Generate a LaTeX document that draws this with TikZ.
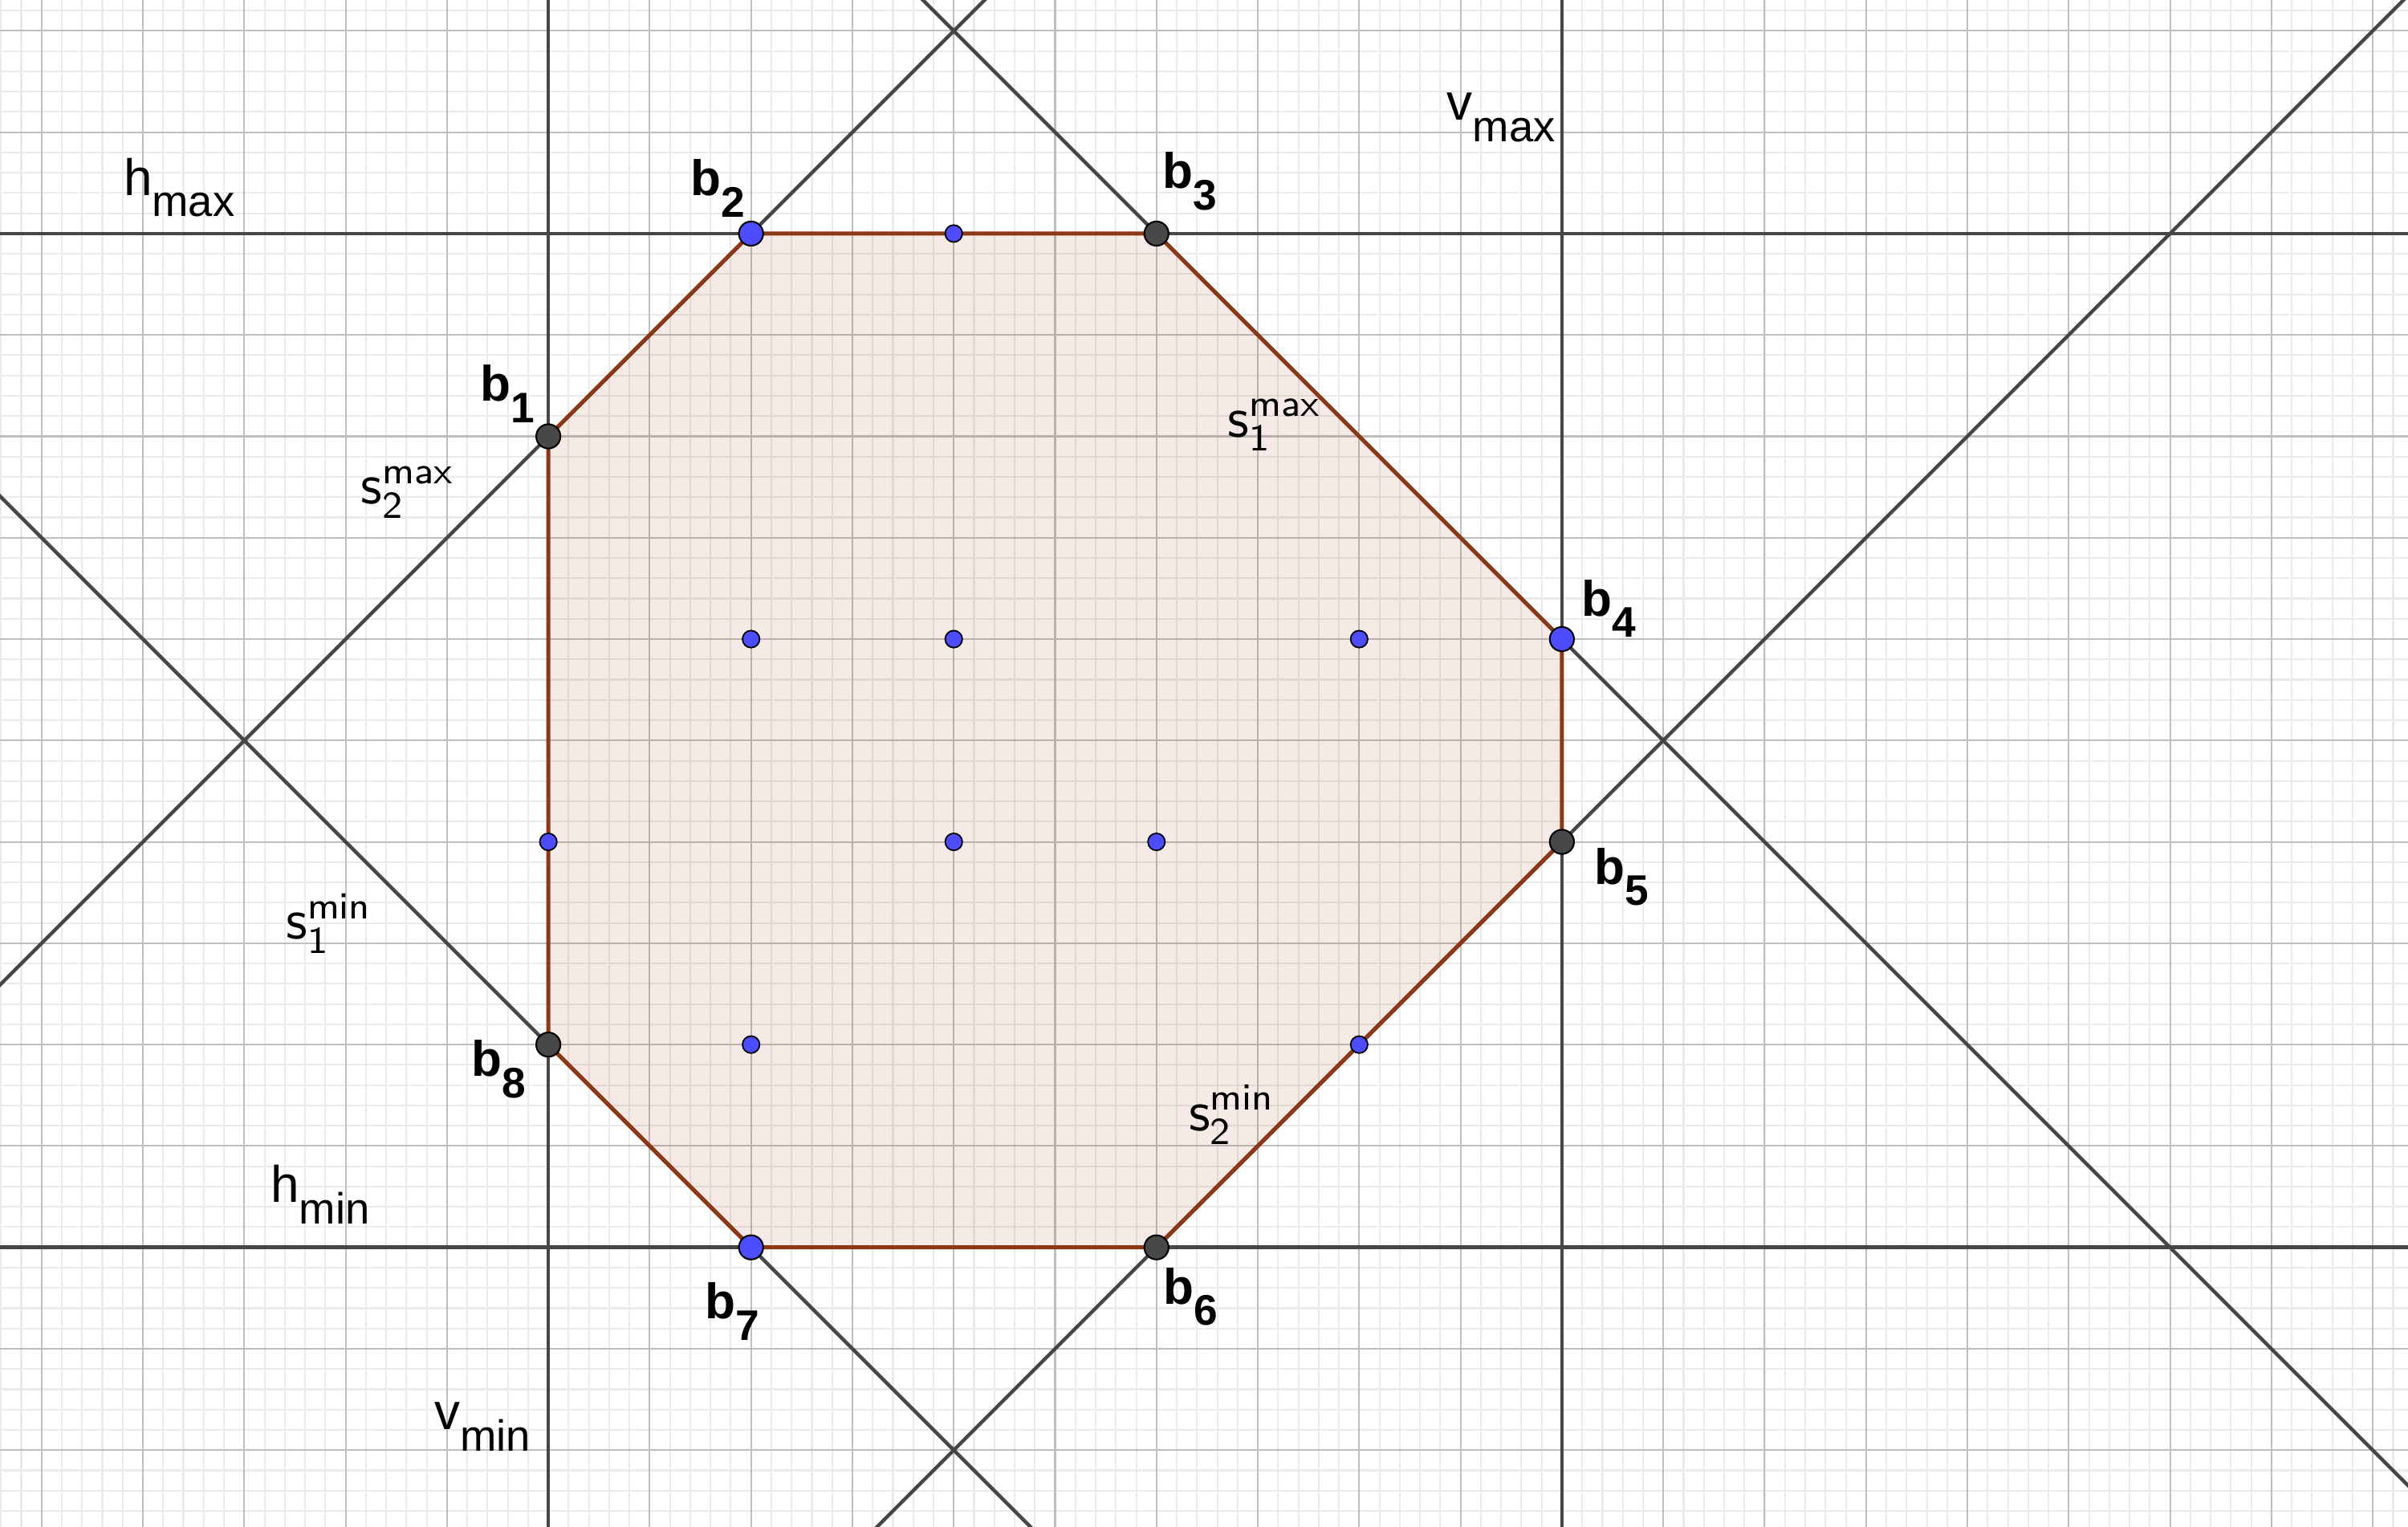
\documentclass[tikz,border=0pt]{standalone}
\usepackage{fontspec}
\newfontfamily\ggbfont{Liberation Sans}
\usepackage{tikz}

\definecolor{edgebrown}{RGB}{140,56,20}
\definecolor{fillbrown}{RGB}{153,51,0}
\definecolor{linegray}{RGB}{70,70,70}
\definecolor{ptdark}{RGB}{72,72,72}
\definecolor{ptblue}{RGB}{77,77,255}

\newcommand{\bsub}[1]{b\raisebox{-4.5pt}{\fontsize{9}{9}\selectfont #1}}
\newcommand{\lsub}[2]{#1\raisebox{-4.5pt}{\fontsize{9.2}{10}\selectfont #2}}

\begin{document}
\begin{tikzpicture}[
  x=1.5cm, y=1.5cm,
  minorgrid/.style={draw=black!8, line width=0.35pt},
  majorgrid/.style={draw=black!25, line width=0.35pt},
  bound/.style={draw=linegray, line width=0.75pt},
  region/.style={draw=edgebrown, line width=0.85pt, line join=round},
  corner/.style={circle, draw=black, line width=0.35pt, inner sep=0pt, minimum size=5.1pt, fill=ptdark},
  cornerblue/.style={corner, fill=ptblue},
  lattice/.style={circle, draw=black, line width=0.3pt, inner sep=0pt, minimum size=3.6pt, fill=ptblue},
  blabel/.style={font=\ggbfont\bfseries\fontsize{10.5}{12}\selectfont, inner sep=0pt},
  llabel/.style={font=\ggbfont\fontsize{10.8}{12}\selectfont, inner sep=0pt},
  slabel/.style={font=\fontsize{12}{14}\selectfont, inner sep=0pt}
]
  \useasboundingbox (-2.705,-1.379) rectangle (9.174,6.152);
  \clip (-2.705,-1.379) rectangle (9.174,6.152);

  % grid
  \draw[minorgrid, step=0.1] (-2.8,-1.4) grid (9.2,6.2);
  \draw[majorgrid, step=0.5] (-2.8,-1.4) grid (9.2,6.2);

  % octagon corners
  \coordinate (c1) at (0,4);
  \coordinate (c2) at (1,5);
  \coordinate (c3) at (3,5);
  \coordinate (c4) at (5,3);
  \coordinate (c5) at (5,2);
  \coordinate (c6) at (3,0);
  \coordinate (c7) at (1,0);
  \coordinate (c8) at (0,1);

  % ends of the bounding lines
  \coordinate (hmax-w) at (-2.8,5);   \coordinate (hmax-e) at (9.3,5);
  \coordinate (hmin-w) at (-2.8,0);   \coordinate (hmin-e) at (9.3,0);
  \coordinate (vmin-s) at (0,-1.4);   \coordinate (vmin-n) at (0,6.2);
  \coordinate (vmax-s) at (5,-1.4);   \coordinate (vmax-n) at (5,6.2);
  \coordinate (s2max-s) at (-2.8,1.2); \coordinate (s2max-n) at (2.2,6.2);
  \coordinate (s1min-n) at (-2.8,3.8); \coordinate (s1min-s) at (2.4,-1.4);
  \coordinate (s1max-n) at (1.8,6.2);  \coordinate (s1max-s) at (9.4,-1.4);
  \coordinate (s2min-s) at (1.6,-1.4); \coordinate (s2min-n) at (9.2,6.2);

  \fill[fillbrown, fill opacity=0.1] (c1) -- (c2) -- (c3) -- (c4) -- (c5) -- (c6) -- (c7) -- (c8) -- cycle;

  \draw[bound] (hmax-w) -- (hmax-e);
  \draw[bound] (hmin-w) -- (hmin-e);
  \draw[bound] (vmin-s) -- (vmin-n);
  \draw[bound] (vmax-s) -- (vmax-n);
  \draw[bound] (s2max-s) -- (s2max-n);
  \draw[bound] (s1min-n) -- (s1min-s);
  \draw[bound] (s1max-n) -- (s1max-s);
  \draw[bound] (s2min-s) -- (s2min-n);

  \draw[region] (c1) -- (c2) -- (c3) -- (c4) -- (c5) -- (c6) -- (c7) -- (c8) -- cycle;

  % lattice points inside
  \foreach \x/\y [count=\i] in {2/5, 1/3, 2/3, 4/3, 0/2, 2/2, 3/2, 1/1, 4/1}
    \node[lattice] (q\i) at (\x,\y) {};

  % corners
  \node[corner]     (b1) at (c1) {};
  \node[cornerblue] (b2) at (c2) {};
  \node[corner]     (b3) at (c3) {};
  \node[cornerblue] (b4) at (c4) {};
  \node[corner]     (b5) at (c5) {};
  \node[corner]     (b6) at (c6) {};
  \node[cornerblue] (b7) at (c7) {};
  \node[corner]     (b8) at (c8) {};

  \node[blabel] (lb1) at (-0.200,4.211) {\bsub{1}};
  \node[blabel] (lb2) at (0.837,5.223) {\bsub{2}};
  \node[blabel] (lb3) at (3.164,5.257) {\bsub{3}};
  \node[blabel] (lb4) at (5.231,3.151) {\bsub{4}};
  \node[blabel] (lb5) at (5.294,1.827) {\bsub{5}};
  \node[blabel] (lb6) at (3.168,-0.243) {\bsub{6}};
  \node[blabel] (lb7) at (0.909,-0.316) {\bsub{7}};
  \node[blabel] (lb8) at (-0.243,0.879) {\bsub{8}};

  % line names
  \node[llabel] (lhmax) at (-1.821,5.227) {\lsub{h}{max}};
  \node[llabel] (lvmax) at (4.700,5.573) {\lsub{v}{max}};
  \node[llabel] (lhmin) at (-1.125,0.261) {\lsub{h}{min}};
  \node[llabel] (lvmin) at (-0.325,-0.884) {\lsub{v}{min}};
  \node[slabel] (ls1max) at (3.583,4.057) {$\mathsf{s}_{\mathsf{1}}^{\mathsf{max}}$};
  \node[slabel] (ls2max) at (-0.693,3.725) {$\mathsf{s}_{\mathsf{2}}^{\mathsf{max}}$};
  \node[slabel] (ls1min) at (-1.081,1.598) {$\mathsf{s}_{\mathsf{1}}^{\mathsf{min}}$};
  \node[slabel] (ls2min) at (3.373,0.655) {$\mathsf{s}_{\mathsf{2}}^{\mathsf{min}}$};
\end{tikzpicture}
\end{document}
